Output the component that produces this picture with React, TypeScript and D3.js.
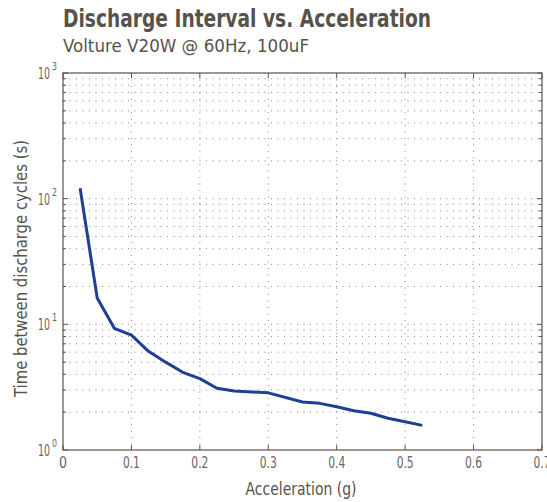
import React from "react";
import * as d3 from "d3";

const accel = [0.025, 0.05, 0.075, 0.1, 0.125, 0.15, 0.175, 0.2, 0.225, 0.25, 0.3, 0.35, 0.375, 0.4, 0.425, 0.45, 0.475, 0.5, 0.525];
const interval = [121, 16.2, 9.3, 8.2, 6.1, 5.0, 4.15, 3.7, 3.1, 2.95, 2.85, 2.41, 2.35, 2.21, 2.05, 1.96, 1.79, 1.68, 1.57];
const xTicks = [0, 0.1, 0.2, 0.3, 0.4, 0.5, 0.6, 0.7];
const yDecades = [0, 1, 2, 3];

const W = 547, H = 502;
const L = 63, R = 542, T = 73, B = 450;
const FONT = "'DejaVu Sans Condensed', 'Liberation Sans', sans-serif";
const ADJ = "spacingAndGlyphs";

export default function App() {
  const x = d3.scaleLinear().domain([0, 0.7]).range([L, R]);
  const y = d3.scaleLog().domain([1, 1000]).range([B, T]);
  const minors: number[] = [];
  for (let d = 0; d < 3; d++) for (let m = 2; m <= 9; m++) minors.push(m * Math.pow(10, d));
  const line = d3.line<number>().x((_, i) => x(accel[i])).y((v) => y(v));
  const gridColor = "#8a8a8a";
  const axisColor = "#5a5246";
  const textColor = "#57534a";
  const tickColor = "#666";
  return (
    <svg width={W} height={H} style={{ position: "absolute", left: 0, top: 0 }} fontFamily={FONT}>
      <rect width={W} height={H} fill="#fff" />
      <text x={63} y={27} fontSize={24} fontWeight="bold" fill={textColor} textLength={368} lengthAdjust={ADJ}>Discharge Interval vs. Acceleration</text>
      <text x={63} y={52} fontSize={17} fill={textColor} textLength={246} lengthAdjust={ADJ}>Volture V20W @ 60Hz, 100uF</text>
      {/* grid */}
      {xTicks.slice(1, -1).map((t) => (
        <line key={"gx" + t} x1={x(t)} x2={x(t)} y1={T} y2={B} stroke={gridColor} strokeWidth={1} strokeDasharray="1,5.5" />
      ))}
      {[...yDecades.slice(1, -1).map((d) => Math.pow(10, d)), ...minors].map((v) => (
        <line key={"gy" + v} x1={L} x2={R} y1={y(v)} y2={y(v)} stroke={gridColor} strokeWidth={1} strokeDasharray="1,5.5" />
      ))}
      {/* ticks */}
      {xTicks.map((t) => (
        <g key={"tx" + t}>
          <line x1={x(t)} x2={x(t)} y1={B} y2={B - 5} stroke={axisColor} />
          <line x1={x(t)} x2={x(t)} y1={T} y2={T + 5} stroke={axisColor} />
          <text x={x(t)} y={468} textAnchor="middle" fontSize={15} fill={tickColor} textLength={t === 0 ? 8 : 17} lengthAdjust={ADJ}>{String(t)}</text>
        </g>
      ))}
      {yDecades.map((d) => (
        <g key={"ty" + d}>
          <line x1={L} x2={L + 5} y1={y(Math.pow(10, d))} y2={y(Math.pow(10, d))} stroke={axisColor} />
          <line x1={R} x2={R - 5} y1={y(Math.pow(10, d))} y2={y(Math.pow(10, d))} stroke={axisColor} />
          <text x={38} y={y(Math.pow(10, d)) + 6} fontSize={16} fill={tickColor} textLength={12} lengthAdjust={ADJ}>10</text>
          <text x={52} y={y(Math.pow(10, d)) - 3} fontSize={10} fill={tickColor} textLength={5} lengthAdjust={ADJ}>{String(d)}</text>
        </g>
      ))}
      {minors.map((v) => (
        <g key={"tm" + v}>
          <line x1={L} x2={L + 3} y1={y(v)} y2={y(v)} stroke={axisColor} />
          <line x1={R} x2={R - 3} y1={y(v)} y2={y(v)} stroke={axisColor} />
        </g>
      ))}
      <rect x={L} y={T} width={R - L} height={B - T} fill="none" stroke={axisColor} strokeWidth={1.2} />
      <path d={line(interval) || ""} fill="none" stroke="#1f3f94" strokeWidth={3} strokeLinejoin="round" />
      <text x={301} y={495} textAnchor="middle" fontSize={18} fill={textColor} textLength={111} lengthAdjust={ADJ}>Acceleration (g)</text>
      <text transform={`translate(27, 268.5) rotate(-90)`} textAnchor="middle" fontSize={18} fill={textColor} textLength={257} lengthAdjust={ADJ}>Time between discharge cycles (s)</text>
    </svg>
  );
}
